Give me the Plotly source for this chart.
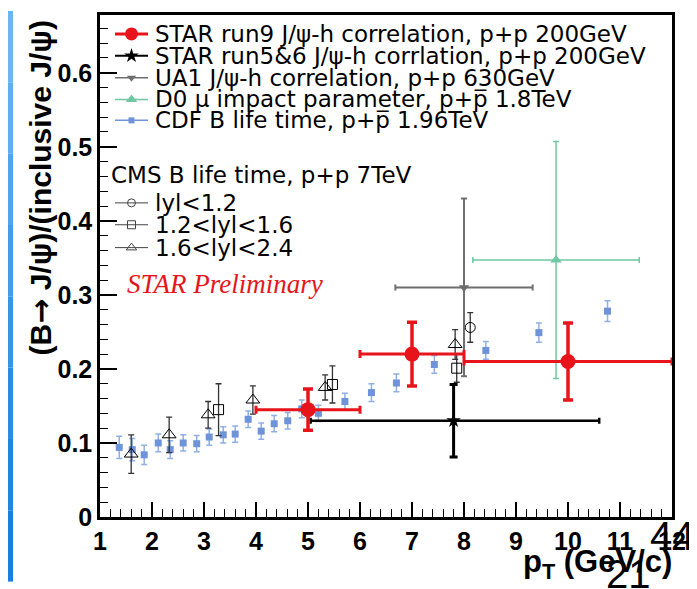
import plotly.graph_objects as go

# ---------------- data ----------------
cdf_pt = [1.37, 1.62, 1.85, 2.12, 2.35, 2.60, 2.86, 3.10, 3.37, 3.60, 3.85, 4.10,
          4.35, 4.61, 4.88, 5.20, 5.71, 6.22, 6.70, 7.43, 8.42, 9.44, 10.76]
cdf_r = [0.094, 0.091, 0.084, 0.100, 0.091, 0.100, 0.099, 0.108, 0.111, 0.112, 0.132, 0.116,
         0.126, 0.130, 0.146, 0.140, 0.156, 0.168, 0.181, 0.206, 0.225, 0.249, 0.278]
cdf_err = [0.015, 0.015, 0.013, 0.012, 0.012, 0.011, 0.011, 0.011, 0.011, 0.011, 0.011, 0.011,
           0.011, 0.011, 0.012, 0.011, 0.011, 0.012, 0.012, 0.012, 0.012, 0.013, 0.014]

run9_pt = [5.0, 7.0, 10.0]
run9_r = [0.145, 0.220, 0.210]
run9_xerr = [1.0, 1.0, 2.0]
run9_yerr = [0.028, 0.043, 0.052]

run56_pt = [7.8]
run56_r = [0.130]
run56_xerr_plus = [2.8]
run56_xerr_minus = [2.75]
run56_yerr = [0.049]

ua1_pt = [8.0]
ua1_r = [0.310]
ua1_xerr = [1.32]
ua1_yerr = [0.12]

d0_pt = [9.77]
d0_r = [0.347]
d0_xerr = [1.6]
d0_yerr = [0.16]

cms1_pt = [8.12]
cms1_r = [0.256]
cms1_err = [0.020]

cms2_pt = [3.28, 5.47, 7.86]
cms2_r = [0.145, 0.179, 0.201]
cms2_err = [0.035, 0.025, 0.019]

cms3_pt = [1.60, 2.33, 3.08, 3.94, 5.33, 7.83]
cms3_r = [0.085, 0.111, 0.138, 0.158, 0.175, 0.233]
cms3_err = [0.026, 0.024, 0.018, 0.019, 0.017, 0.020]

legend_labels = [
    "STAR run9 J/\u03c8-h correlation, p+p 200GeV",
    "STAR run5&6 J/\u03c8-h corrlation, p+p 200GeV",
    "UA1 J/\u03c8-h correlation, p+p 630GeV",
    "D0 \u03bc impact parameter, p+p\u0305 1.8TeV",
    "CDF B life time, p+p\u0305 1.96TeV",
]
cms_header = "CMS B life time, p+p 7TeV"
cms_labels = ["lyl<1.2", "1.2<lyl<1.6", "1.6<lyl<2.4"]

x_ticks = list(range(1, 13))
y_ticks = [0, 0.1, 0.2, 0.3, 0.4, 0.5, 0.6]

# ---------------- styles ----------------
RED = "#e8141b"
BLUE = "#6f93d8"
BLUE_ERR = "#8fb0e6"
GRAY = "#6e6e6e"
GREEN = "#72c7a3"

# page is rendered with an 8px body margin; lay out in page pixels
OFF = 8
PAGE_W, PAGE_H = 697, 589
PL, PR, PT, PB = 100, 672, 12, 517          # plot frame in page pixels
W, H = PAGE_W - OFF, PAGE_H - OFF
L, T = PL - OFF, PT - OFF
R, B = PAGE_W - PR, PAGE_H - PB
PW, PH = PR - PL, PB - PT


def fx(px):
    return (px - PL) / PW


def fy(py):
    return (PB - py) / PH


fig = go.Figure()

# CDF
fig.add_trace(go.Scatter(
    x=cdf_pt, y=cdf_r, mode="markers",
    marker=dict(symbol="square", size=7, color=BLUE),
    error_y=dict(type="data", array=cdf_err, color=BLUE_ERR, thickness=1.5, width=3),
    showlegend=False))

# CMS
fig.add_trace(go.Scatter(
    x=cms2_pt, y=cms2_r, mode="markers",
    marker=dict(symbol="square-open", size=10, color="black", line=dict(width=1)),
    error_y=dict(type="data", array=cms2_err, color="#333333", thickness=1.3, width=3),
    showlegend=False))
fig.add_trace(go.Scatter(
    x=cms3_pt, y=cms3_r, mode="markers",
    marker=dict(symbol="triangle-up-open", size=12, color="black", line=dict(width=1)),
    error_y=dict(type="data", array=cms3_err, color="#333333", thickness=1.3, width=3),
    showlegend=False))
fig.add_trace(go.Scatter(
    x=cms1_pt, y=cms1_r, mode="markers",
    marker=dict(symbol="circle-open", size=10, color="black", line=dict(width=1)),
    error_y=dict(type="data", array=cms1_err, color="#333333", thickness=1.3, width=3),
    showlegend=False))

# UA1
fig.add_trace(go.Scatter(
    x=ua1_pt, y=ua1_r, mode="markers",
    marker=dict(symbol="triangle-down", size=9, color=GRAY),
    error_x=dict(type="data", array=ua1_xerr, color=GRAY, thickness=2, width=3),
    error_y=dict(type="data", array=ua1_yerr, color=GRAY, thickness=2, width=3),
    showlegend=False))

# D0
fig.add_trace(go.Scatter(
    x=d0_pt, y=d0_r, mode="markers",
    marker=dict(symbol="triangle-up", size=10, color=GREEN),
    error_x=dict(type="data", array=d0_xerr, color=GREEN, thickness=1.5, width=3),
    error_y=dict(type="data", array=d0_yerr, color=GREEN, thickness=1.5, width=3),
    showlegend=False))

# STAR run5&6
fig.add_trace(go.Scatter(
    x=run56_pt, y=run56_r, mode="markers",
    marker=dict(symbol="star", size=11, color="black"),
    error_x=dict(type="data", symmetric=False, array=run56_xerr_plus,
                 arrayminus=run56_xerr_minus, color="black", thickness=2.5, width=3),
    error_y=dict(type="data", array=run56_yerr, color="black", thickness=3, width=4),
    showlegend=False))

# STAR run9
fig.add_trace(go.Scatter(
    x=run9_pt, y=run9_r, mode="markers",
    marker=dict(symbol="circle", size=15, color=RED),
    error_x=dict(type="data", array=run9_xerr, color=RED, thickness=3, width=4),
    error_y=dict(type="data", array=run9_yerr, color=RED, thickness=3.5, width=5),
    showlegend=False))

# ---------------- manual legend (overlay axes in paper-like units) ----------------
leg_rows = [31, 53, 75, 97, 118]
cms_rows = [201, 223, 246]
sym_x0, sym_x1, sym_xm, txt_x = 115, 148, 131.5, 153

leg_styles = [
    dict(line=RED, lw=3, marker=dict(symbol="circle", size=13, color=RED)),
    dict(line="black", lw=2, marker=dict(symbol="star", size=11, color="black")),
    dict(line=GRAY, lw=1.5, marker=dict(symbol="triangle-down", size=8, color=GRAY)),
    dict(line=GREEN, lw=1.5, marker=dict(symbol="triangle-up", size=10, color=GREEN)),
    dict(line=BLUE, lw=1.5, marker=dict(symbol="square", size=6, color=BLUE)),
    dict(line="#444444", lw=1, marker=dict(symbol="circle-open", size=8, color="#444444")),
    dict(line="#444444", lw=1, marker=dict(symbol="square-open", size=8, color="#444444")),
    dict(line="#444444", lw=1, marker=dict(symbol="triangle-up-open", size=9, color="#444444")),
]

for row, st in zip(leg_rows + cms_rows, leg_styles):
    fig.add_trace(go.Scatter(
        x=[fx(sym_x0), fx(sym_x1)], y=[fy(row), fy(row)], mode="lines",
        line=dict(color=st["line"], width=st["lw"]),
        xaxis="x2", yaxis="y2", showlegend=False, hoverinfo="skip"))
    fig.add_trace(go.Scatter(
        x=[fx(sym_xm)], y=[fy(row)], mode="markers", marker=st["marker"],
        xaxis="x2", yaxis="y2", showlegend=False, hoverinfo="skip"))

LEG_FONT = dict(family="DejaVu Sans", size=23, color="black")
annotations = []
for row, lab in zip(leg_rows, legend_labels):
    annotations.append(dict(x=fx(txt_x), y=fy(row), xref="paper", yref="paper",
                            text=lab, showarrow=False, xanchor="left", yanchor="middle",
                            font=LEG_FONT))
annotations.append(dict(x=fx(sym_x0 - 6), y=fy(173), xref="paper", yref="paper",
                        text=cms_header, showarrow=False, xanchor="left", yanchor="middle",
                        font=LEG_FONT))
for row, lab in zip(cms_rows, cms_labels):
    annotations.append(dict(x=fx(txt_x), y=fy(row), xref="paper", yref="paper",
                            text=lab, showarrow=False, xanchor="left", yanchor="middle",
                            font=LEG_FONT))

annotations.append(dict(x=fx(125), y=fy(283), xref="paper", yref="paper",
                        text="<i>STAR Preliminary</i>", showarrow=False,
                        xanchor="left", yanchor="middle",
                        font=dict(family="Liberation Serif", size=27, color=RED)))

# axis titles
annotations.append(dict(x=fx(40), y=fy(16), xref="paper", yref="paper",
                        text="<b>(B<span style=\"font-family:'DejaVu Sans'\">\u2192</span> "
                             "J/\u03c8)/(inclusive J/\u03c8)</b>", textangle=-90,
                        showarrow=False, xanchor="center", yanchor="top",
                        font=dict(family="Liberation Sans", size=30, color="black")))
annotations.append(dict(x=fx(674), y=fy(564), xref="paper", yref="paper",
                        text="<b>p<sub>T</sub> (GeV/c)</b>", showarrow=False,
                        xanchor="right", yanchor="middle",
                        font=dict(family="Liberation Sans", size=31, color="black")))

# slide page numbers
annotations.append(dict(x=fx(672), y=fy(536), xref="paper", yref="paper", text="44",
                        showarrow=False, xanchor="center", yanchor="middle",
                        font=dict(family="Liberation Sans", size=40, color="black")))
annotations.append(dict(x=fx(628), y=fy(574), xref="paper", yref="paper", text="21",
                        showarrow=False, xanchor="center", yanchor="middle",
                        font=dict(family="Liberation Sans", size=40, color="black")))

# left slide bar
shapes = []
bar_cols = ["#6db6f3", "#5eaef1", "#50a6ee", "#429eeb", "#3596e8", "#288ee5", "#1f87e2", "#1a80df"]
n = len(bar_cols)
for i, c in enumerate(bar_cols):
    shapes.append(dict(type="rect", xref="paper", yref="paper",
                       x0=fx(OFF), x1=fx(OFF + 5),
                       y0=fy(OFF + i * 574 / n), y1=fy(OFF + (i + 1) * 574 / n),
                       fillcolor=c, line=dict(width=0), layer="above"))

TICKFONT = dict(family="Liberation Sans", size=25, color="black", weight="bold")

fig.update_layout(
    width=W, height=H,
    margin=dict(l=L, r=R, t=T, b=B, pad=0),
    paper_bgcolor="white", plot_bgcolor="white",
    showlegend=False,
    xaxis=dict(range=[1, 12], tickvals=x_ticks, ticks="inside", ticklen=15, tickwidth=1.5,
               tickcolor="black", showline=True, linewidth=2.5, linecolor="black",
               mirror=True, showgrid=False, zeroline=False, tickfont=TICKFONT,
               minor=dict(dtick=0.2, ticks="inside", ticklen=8, tickwidth=1.2,
                          tickcolor="black", showgrid=False)),
    yaxis=dict(range=[0, 0.678], tickvals=y_ticks, ticks="inside", ticklen=17, tickwidth=1.5,
               tickcolor="black", showline=True, linewidth=2.5, linecolor="black",
               mirror=True, showgrid=False, zeroline=False, tickfont=TICKFONT,
               minor=dict(dtick=0.02, ticks="inside", ticklen=8, tickwidth=1.2,
                          tickcolor="black", showgrid=False)),
    xaxis2=dict(range=[0, 1], overlaying="x", visible=False, fixedrange=True),
    yaxis2=dict(range=[0, 1], overlaying="y", visible=False, fixedrange=True),
    annotations=annotations,
    shapes=shapes,
)

fig.write_html("out.html")
